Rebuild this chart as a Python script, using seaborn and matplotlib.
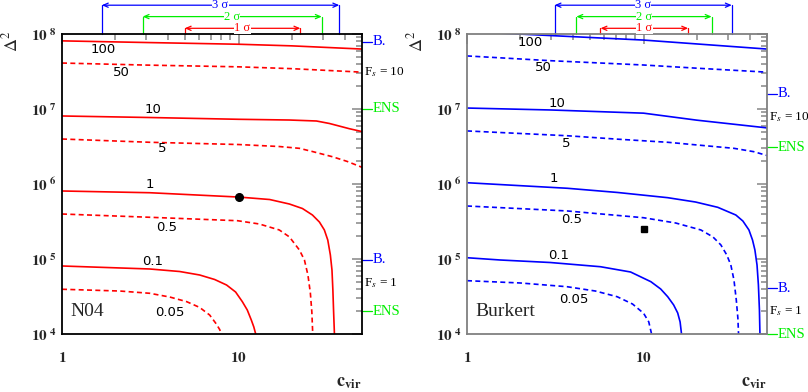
import numpy as np
import pandas as pd
import matplotlib
matplotlib.use("Agg")
import matplotlib.pyplot as plt
import matplotlib.transforms as mtransforms
from matplotlib.ticker import LogLocator, NullFormatter, FixedLocator, FixedFormatter
import seaborn as sns

# ─── data ──────────────────────────────────────────────────────
fs_levels = ["100", "50", "10", "5", "1", "0.5", "0.1", "0.05"]
fs_dashed = [False, True, False, True, False, True, False, True]

# N04 panel: (c_vir, Delta^2) along each iso-F_s curve
n04_c = {
    "100": [1, 3, 10, 20, 50],
    "50": [1, 3, 10, 20, 50],
    "10": [1, 3.14, 10, 19.4, 27.6, 32.7, 37.1, 42.4, 50],
    "5": [1, 3.14, 10, 17.0, 22.1, 26.2, 34.0, 41.2, 50],
    "1": [1, 3.14, 10, 15.0, 19.4, 23.0, 26.2, 28.7, 30.6, 32.0, 33.1,
          33.8, 34.2, 34.5, 34.9, 35.0],
    "0.5": [1, 3.14, 9.87, 13.1, 17.0, 19.4, 22.1, 23.6, 24.7, 25.5, 26.0,
            26.3, 26.4],
    "0.1": [1, 3.14, 4.64, 6.02, 7.32, 8.55, 9.62, 10.5, 11.2, 11.8, 12.2,
            12.5, 12.6],
    "0.05": [1, 2.13, 3.14, 4.08, 5.08, 6.02, 6.86, 7.48, 7.81, 8.02, 8.05],
}
n04_d = {
    "100": [8.1e7, 7.7e7, 7.3e7, 6.95e7, 6.3e7],
    "50": [4.1e7, 3.85e7, 3.65e7, 3.45e7, 3.1e7],
    "10": [8.07e6, 7.7e6, 7.29e6, 7.13e6, 6.92e6, 6.41e6, 5.93e6, 5.46e6, 5.0e6],
    "5": [3.98e6, 3.6e6, 3.36e6, 3.16e6, 2.99e6, 2.71e6, 2.31e6, 2.0e6, 1.67e6],
    "1": [8.07e5, 7.65e5, 6.7e5, 6.21e5, 5.41e5, 4.71e5, 3.86e5, 3.11e5,
          2.44e5, 1.79e5, 1.13e5, 7.13e4, 3.86e4, 2.09e4, 1.0e4, 8e3],
    "0.5": [3.98e5, 3.6e5, 3.24e5, 2.93e5, 2.44e5, 1.97e5, 1.32e5, 9.7e4,
            6.12e4, 3.52e4, 1.96e4, 1.0e4, 8e3],
    "0.1": [8.07e4, 7.36e4, 6.81e4, 6.12e4, 5.33e4, 4.5e4, 3.63e4, 2.7e4,
            2.09e4, 1.54e4, 1.24e4, 1.0e4, 8e3],
    "0.05": [3.95e4, 3.74e4, 3.49e4, 3.11e4, 2.7e4, 2.26e4, 1.79e4, 1.36e4,
             1.15e4, 1.0e4, 8e3],
}
# Burkert panel
bur_c = {
    "100": [1, 1.95, 10, 50],
    "50": [1, 3, 10, 20, 50],
    "10": [1, 3, 10, 20, 50],
    "5": [1, 3.7, 7.12, 13.7, 22, 32.5, 42, 50],
    "1": [1, 3.70, 7.12, 13.7, 19.7, 26.3, 33.3, 36.5, 39.5, 41.4, 42.7,
          43.9, 44.7, 45.3, 45.6, 45.7],
    "0.5": [1, 3.70, 10, 15.2, 21.1, 24.7, 27.4, 29.6, 31.2, 32.5, 33.5,
            34.2, 34.5, 34.6],
    "0.1": [1, 1.54, 2.96, 5.70, 8.44, 11.0, 12.5, 13.7, 14.8, 15.6, 16.1,
            16.4, 16.5],
    "0.05": [1, 2.0, 3.69, 5.34, 7.09, 8.66, 10.0, 10.7, 11.1, 11.2],
}
bur_d = {
    "100": [1.08e8, 1.0e8, 8.3e7, 6.3e7],
    "50": [5.1e7, 4.4e7, 3.86e7, 3.5e7, 3.1e7],
    "10": [1.03e7, 9.7e6, 8.8e6, 7.1e6, 5.6e6],
    "5": [5.1e6, 4.4e6, 3.96e6, 3.6e6, 3.25e6, 2.99e6, 2.7e6, 2.4e6],
    "1": [1.04e6, 8.77e5, 7.71e5, 6.57e5, 5.75e5, 4.89e5, 3.86e5, 3.21e5,
          2.44e5, 1.79e5, 1.32e5, 8.32e4, 4.5e4, 2.09e4, 1.0e4, 8e3],
    "0.5": [5.09e5, 4.37e5, 3.55e5, 3.02e5, 2.44e5, 1.97e5, 1.54e5, 1.13e5,
            8.32e4, 5.25e4, 2.84e4, 1.63e4, 1.0e4, 8e3],
    "0.1": [1.04e5, 9.7e4, 8.98e4, 7.89e4, 6.71e4, 4.98e4, 3.98e4, 3.14e4,
            2.44e4, 1.91e4, 1.45e4, 1.0e4, 8e3],
    "0.05": [5.14e4, 4.79e4, 4.27e4, 3.74e4, 3.14e4, 2.51e4, 1.89e4, 1.45e4,
             1.0e4, 8e3],
}

# label anchor for each curve (c_vir, Delta^2)
n04_lab_c = [1.71, 2.18, 3.27, 3.67, 3.14, 3.92, 3.27, 4.07]
n04_lab_d = [6.3e7, 3.1e7, 9.7e6, 3.0e6, 9.7e5, 2.67e5, 9.4e4, 1.96e4]
bur_lab_c = [2.28, 2.7, 3.25, 3.65, 3.12, 3.9, 3.29, 4.05]
bur_lab_d = [7.6e7, 3.6e7, 1.17e7, 3.5e6, 1.17e6, 3.4e5, 1.1e5, 2.9e4]

# best-fit points
n04_best = (10, 6.7e5)
bur_best = (10, 2.5e5)

# 1, 2, 3 sigma ranges of c_vir
sigma_names = ["1 σ", "2 σ", "3 σ"]
n04_sig_lo = [4.95, 2.86, 1.68]
n04_sig_hi = [22.4, 29.6, 37.2]
bur_sig_lo = [5.7, 4.16, 3.13]
bur_sig_hi = [17.9, 24.3, 31.6]

# bounds on the right side (B. / F_s text / ENS) for F_s = 10 and F_s = 1
n04_fs10 = [7.9e7, 3.1e7, 1.0e7]
n04_fs1 = [9.7e4, 4.8e4, 2.0e4]
bur_fs10 = [1.6e7, 7.9e6, 3.1e6]
bur_fs1 = [4.1e4, 2.0e4, 1.0e4]

# ─── style ───────────────────────────────────────────────────
sns.set_style("white")
plt.rcParams["font.family"] = ["Liberation Serif", "DejaVu Serif"]
plt.rcParams["mathtext.fontset"] = "stix"

RED, BLUE, GREEN = "#ff0000", "#0000ff", "#00ee00"
SIG_COLORS = [RED, GREEN, BLUE]

fig = plt.figure(figsize=(8.08, 3.92), dpi=100)
ax1 = fig.add_axes([62 / 808, 1 - 334 / 392, 300 / 808, 300 / 392])
ax2 = fig.add_axes([467 / 808, 1 - 334 / 392, 300 / 808, 300 / 392])


def draw_panel(ax, cs, ds, lab_c, lab_d, color, best, marker, name,
               sig_lo, sig_hi, fs10, fs1, spine_col):
    for lev, dashed in zip(fs_levels, fs_dashed):
        df = pd.DataFrame({"c": cs[lev], "d": ds[lev]})
        sns.lineplot(data=df, x="c", y="d", ax=ax, color=color, lw=1.2,
                     sort=False, estimator=None,
                     dashes=False, linestyle=(0, (3, 2)) if dashed else "-")
    for lev, x, y in zip(fs_levels, lab_c, lab_d):
        ax.text(x, y, lev, fontsize=9.5, ha="center", va="center",
                family=["DejaVu Sans"], color="black")
    ax.plot([best[0]], [best[1]], marker=marker, color="black",
            ms=5.5 if marker == "o" else 5, ls="none", zorder=5)

    ax.set_xscale("log")
    ax.set_yscale("log")
    ax.set_xlim(1, 50)
    ax.set_ylim(1e4, 1e8)
    ax.set_xlabel("")
    ax.set_ylabel("")

    ax.xaxis.set_major_locator(FixedLocator([1, 10]))
    ax.xaxis.set_major_formatter(FixedFormatter([r"$\mathbf{1}$", r"$\mathbf{10}$"]))
    ax.xaxis.set_minor_locator(LogLocator(base=10, subs=np.arange(2, 10)))
    ax.xaxis.set_minor_formatter(NullFormatter())
    yt = [1e4, 1e5, 1e6, 1e7, 1e8]
    ax.yaxis.set_major_locator(FixedLocator(yt))
    ax.yaxis.set_major_formatter(FixedFormatter(
        [r"$\mathbf{10}^{\ \mathbf{%d}}$" % k for k in range(4, 9)]))
    ax.yaxis.set_minor_locator(LogLocator(base=10, subs=np.arange(2, 10)))
    ax.yaxis.set_minor_formatter(NullFormatter())
    ax.tick_params(which="both", direction="in", top=True, right=True,
                   color="#909090", width=1.2, labelsize=11)
    ax.tick_params(which="major", length=7)
    ax.tick_params(which="minor", length=4)
    ax.tick_params(axis="x", which="major", pad=12)
    ax.tick_params(axis="y", which="major", pad=4)
    for sp in ax.spines.values():
        sp.set_color(spine_col)
        sp.set_linewidth(1.3)

    ax.text(0.027, 0.045, name, transform=ax.transAxes, fontsize=14,
            ha="left", va="bottom")
    ax.text(1.0, -0.162, r"$\mathbf{c_{vir}}$", transform=ax.transAxes,
            fontsize=13, ha="right", va="center")
    ax.text(-0.168, 0.975, r"$\Delta^2$", transform=ax.transAxes,
            fontsize=13, ha="center", va="center", rotation=90)

    # sigma bars above the panel
    trans = mtransforms.blended_transform_factory(ax.transData, ax.transAxes)
    sig_y = [1.019, 1.058, 1.096]
    for nm, lo, hi, yy, col in zip(sigma_names, sig_lo, sig_hi, sig_y, SIG_COLORS):
        ax.plot([lo, lo], [1.0, yy], transform=trans, color=col, lw=0.9,
                clip_on=False)
        ax.plot([hi, hi], [1.0, yy], transform=trans, color=col, lw=0.9,
                clip_on=False)
        ax.annotate("", xy=(lo, yy), xytext=(hi, yy), xycoords=trans,
                    textcoords=trans,
                    arrowprops=dict(arrowstyle="<->,head_length=0.35,head_width=0.15",
                                    color=col, lw=0.9, shrinkA=0, shrinkB=0))
        mid = np.sqrt(lo * hi)
        ax.text(mid, yy, nm, transform=trans, color=col, fontsize=9,
                ha="center", va="center",
                bbox=dict(facecolor="white", edgecolor="none", pad=0.1))

    # right-side bounds
    rtrans = mtransforms.blended_transform_factory(ax.transAxes, ax.transData)
    for vals, fs_txt in ((fs10, "F$_s$ = 10"), (fs1, "F$_s$ = 1")):
        b, f, e = vals
        ax.plot([1.0, 1.033], [b, b], transform=rtrans, color=BLUE, lw=0.9,
                clip_on=False)
        ax.text(1.037, b, "B.", transform=rtrans, color=BLUE, fontsize=10.5,
                ha="left", va="center")
        ax.text(1.006, f, fs_txt, transform=rtrans, color="black", fontsize=9.5,
                ha="left", va="center")
        ax.plot([1.0, 1.033], [e, e], transform=rtrans, color=GREEN, lw=0.9,
                clip_on=False)
        ax.text(1.037, e, "ENS", transform=rtrans, color=GREEN, fontsize=10.5,
                ha="left", va="center")


draw_panel(ax1, n04_c, n04_d, n04_lab_c, n04_lab_d, RED, n04_best, "o", "N04",
           n04_sig_lo, n04_sig_hi, n04_fs10, n04_fs1, "black")
draw_panel(ax2, bur_c, bur_d, bur_lab_c, bur_lab_d, BLUE, bur_best, "s", "Burkert",
           bur_sig_lo, bur_sig_hi, bur_fs10, bur_fs1, "#808080")

plt.savefig("out.png", dpi=100)
plt.close()
